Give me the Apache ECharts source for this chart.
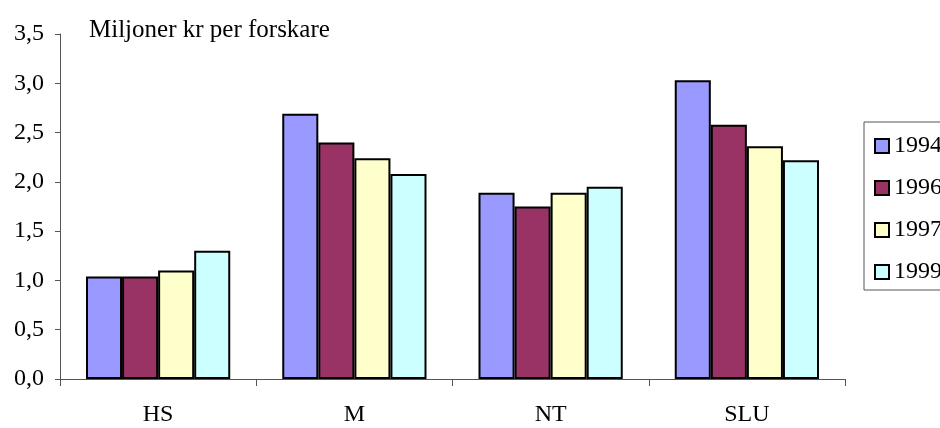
<!DOCTYPE html>
<html>
<head>
<meta charset="utf-8">
<script src="https://cdn.jsdelivr.net/npm/echarts@6/dist/echarts.min.js"></script>
<style>
  html, body { margin: 0; padding: 0; background: #fff; }
  #chart { width: 940px; height: 428px; }
</style>
</head>
<body>
<div id="chart"></div>
<script>
// Research funding per researcher (million SEK), by faculty and year
const categories = ['HS', 'M', 'NT', 'SLU'];
const years = ['1994', '1996', '1997', '1999'];
const values1994 = [1.04, 2.69, 1.89, 3.03];
const values1996 = [1.04, 2.40, 1.75, 2.58];
const values1997 = [1.10, 2.24, 1.89, 2.36];
const values1999 = [1.30, 2.08, 1.95, 2.22];
const seriesValues = [values1994, values1996, values1997, values1999];
const colors = ['#9999FF', '#993366', '#FFFFCC', '#CCFFFF'];

const font = 'Liberation Serif, Times New Roman, serif';
const chart = echarts.init(document.getElementById('chart'), null, { renderer: 'canvas' });

chart.setOption({
  animation: false,
  backgroundColor: '#ffffff',
  title: {
    text: 'Miljoner kr per forskare',
    left: 84,
    top: 13,
    textStyle: { fontFamily: font, fontSize: 25, fontWeight: 'normal', color: '#000' }
  },
  legend: {
    orient: 'vertical',
    left: 864,
    top: 122,
    padding: [12, 60, 6, 10],
    borderColor: '#555',
    borderWidth: 1,
    itemWidth: 14,
    itemHeight: 14,
    itemGap: 18,
    icon: 'rect',
    textStyle: { fontFamily: font, fontSize: 24, color: '#000', lineHeight: 22 },
    data: years
  },
  grid: { left: 60, right: 95, top: 34, bottom: 49, containLabel: false },
  xAxis: {
    type: 'category',
    data: categories,
    axisLine: { lineStyle: { color: '#555', width: 1 } },
    axisTick: { show: true, length: 7, lineStyle: { color: '#555' } },
    axisLabel: { fontFamily: font, fontSize: 24, color: '#000', margin: 24 }
  },
  yAxis: {
    type: 'value',
    min: 0,
    max: 3.5,
    interval: 0.5,
    splitLine: { show: false },
    axisLine: { show: true, lineStyle: { color: '#555', width: 1 } },
    axisTick: { show: true, length: 5, lineStyle: { color: '#555' } },
    axisLabel: {
      fontFamily: font, fontSize: 24, color: '#000', margin: 16,
      formatter: v => v.toFixed(1).replace('.', ',')
    }
  },
  series: years.map((y, i) => ({
    name: y,
    type: 'bar',
    data: seriesValues[i],
    barGap: '0%',
    barCategoryGap: '26.5%',
    itemStyle: { color: colors[i], borderColor: '#000', borderWidth: 2 }
  }))
});
</script>
</body>
</html>
